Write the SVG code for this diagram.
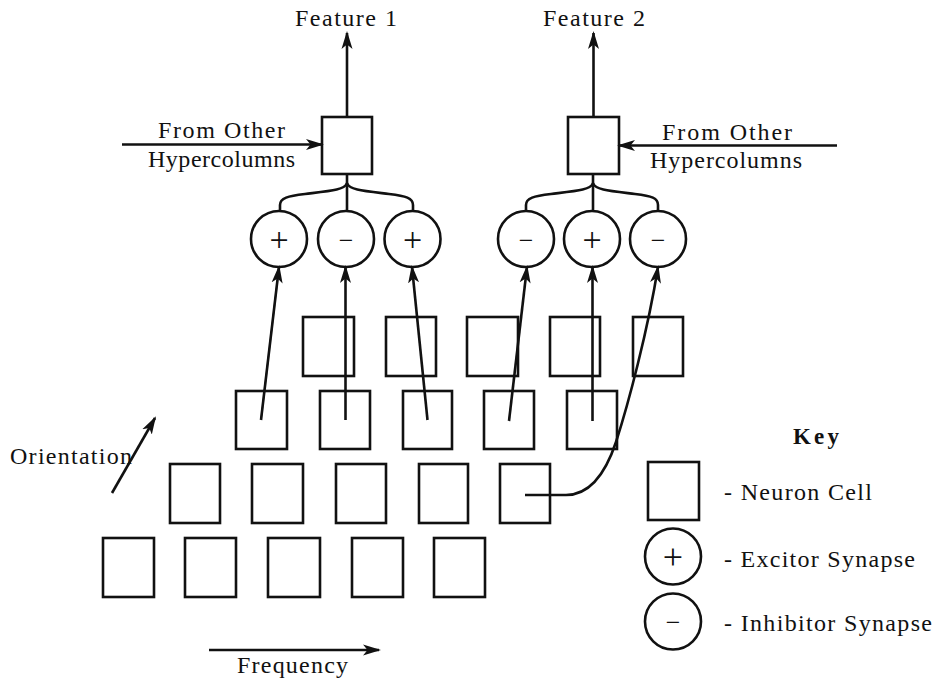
<svg xmlns="http://www.w3.org/2000/svg" width="936" height="680" viewBox="0 0 936 680">
  <style>
    .box { fill: none; stroke: #111; stroke-width: 2.6; }
    .syn { fill: #fff; stroke: #111; stroke-width: 2.6; }
    .wire { fill: none; stroke: #111; stroke-width: 2.6; }
    .arrow { fill: none; stroke: #111; stroke-width: 2.6; marker-end: url(#head); }
    .lbl { font-family: "Liberation Serif", "Times New Roman", serif; font-size: 24px; fill: #111; }
    .key { font-family: "Liberation Serif", "Times New Roman", serif; font-size: 23px; font-weight: bold; fill: #111; }
    .sign { font-family: "Liberation Serif", "Times New Roman", serif; fill: #111; text-anchor: middle; }
  </style>
  <defs>
    <marker id="head" viewBox="0 0 18 12" refX="16" refY="6" markerWidth="18" markerHeight="12" markerUnits="userSpaceOnUse" orient="auto">
      <path d="M0,0.5 L18,6 L0,11.5 L4.5,6 z" fill="#111"/>
    </marker>
  </defs>
  <rect width="936" height="680" fill="#fff"/>

  <!-- output feature cells -->
  <g id="feature1">
    <rect class="box" x="322" y="117" width="50" height="57"/>
    <text class="lbl" x="295" y="26" textLength="102" lengthAdjust="spacing">Feature 1</text>
  </g>
  <g id="feature2">
    <rect class="box" x="568" y="117" width="51" height="57"/>
    <text class="lbl" x="543" y="26" textLength="102" lengthAdjust="spacing">Feature 2</text>
  </g>
  <g id="other-left">
    <text class="lbl" x="158" y="137.5" textLength="127" lengthAdjust="spacing">From Other</text>
    <text class="lbl" x="148" y="166.5" textLength="147" lengthAdjust="spacing">Hypercolumns</text>
  </g>
  <g id="other-right">
    <text class="lbl" x="662" y="140" textLength="130" lengthAdjust="spacing">From Other</text>
    <text class="lbl" x="650" y="168" textLength="152" lengthAdjust="spacing">Hypercolumns</text>
  </g>

  <!-- synapses -->
  <g id="syn1"><circle class="syn" cx="279" cy="239" r="28"/><text class="sign" x="279" y="251" font-size="34">+</text></g>
  <g id="syn2"><circle class="syn" cx="346" cy="239" r="28"/><text class="sign" x="346" y="249" font-size="26">−</text></g>
  <g id="syn3"><circle class="syn" cx="412.5" cy="239" r="28"/><text class="sign" x="412.5" y="251" font-size="34">+</text></g>
  <g id="syn4"><circle class="syn" cx="526" cy="239" r="28"/><text class="sign" x="526" y="249" font-size="26">−</text></g>
  <g id="syn5"><circle class="syn" cx="592" cy="239" r="28"/><text class="sign" x="592" y="251" font-size="34">+</text></g>
  <g id="syn6"><circle class="syn" cx="658" cy="239" r="28"/><text class="sign" x="658" y="249" font-size="26">−</text></g>

  <!-- neuron cell grid: rows by orientation, columns by frequency -->
  <g id="cells-row1">
    <rect class="box" x="303" y="317" width="51" height="59"/>
    <rect class="box" x="386" y="317" width="50" height="59"/>
    <rect class="box" x="467" y="317" width="51" height="59"/>
    <rect class="box" x="550" y="317" width="50" height="59"/>
    <rect class="box" x="633" y="317" width="50" height="59"/>
  </g>
  <g id="cells-row2">
    <rect class="box" x="236" y="391" width="51" height="58"/>
    <rect class="box" x="320" y="391" width="50" height="58"/>
    <rect class="box" x="403" y="391" width="49" height="58"/>
    <rect class="box" x="484" y="391" width="50" height="58"/>
    <rect class="box" x="567" y="391" width="50" height="58"/>
  </g>
  <g id="cells-row3">
    <rect class="box" x="170" y="464" width="50" height="59"/>
    <rect class="box" x="252" y="464" width="51" height="59"/>
    <rect class="box" x="336" y="464" width="50" height="59"/>
    <rect class="box" x="419" y="464" width="49" height="59"/>
    <rect class="box" x="500" y="464" width="50" height="59"/>
  </g>
  <g id="cells-row4">
    <rect class="box" x="103" y="538" width="51" height="59"/>
    <rect class="box" x="185" y="538" width="51" height="59"/>
    <rect class="box" x="268" y="538" width="52" height="59"/>
    <rect class="box" x="352" y="538" width="51" height="59"/>
    <rect class="box" x="434" y="538" width="51" height="59"/>
  </g>

  <!-- axis labels -->
  <g id="orientation">
    <text class="lbl" x="10" y="464" textLength="122" lengthAdjust="spacing">Orientation</text>
  </g>
  <g id="frequency">
    <text class="lbl" x="237" y="672.5" textLength="111" lengthAdjust="spacing">Frequency</text>
  </g>

  <!-- legend -->
  <g id="key">
    <text class="key" x="793" y="444" textLength="46" lengthAdjust="spacing">Key</text>
    <g id="key-cell">
      <rect class="box" x="648" y="462" width="51" height="58"/>
      <text class="lbl" x="724" y="500" textLength="148" lengthAdjust="spacing">- Neuron Cell</text>
    </g>
    <g id="key-excitor">
      <circle class="syn" cx="673" cy="556.5" r="28"/>
      <text class="sign" x="673" y="569" font-size="36">+</text>
      <text class="lbl" x="724" y="566.5" textLength="191" lengthAdjust="spacing">- Excitor Synapse</text>
    </g>
    <g id="key-inhibitor">
      <circle class="syn" cx="673" cy="621.5" r="28"/>
      <text class="sign" x="673" y="631" font-size="26">−</text>
      <text class="lbl" x="724" y="631" textLength="208" lengthAdjust="spacing">- Inhibitor Synapse</text>
    </g>
  </g>

  <!-- connectors -->
  <g id="connectors">
    <!-- feature outputs and lateral inputs -->
    <line class="arrow" x1="347" y1="117" x2="347" y2="33"/>
    <line class="arrow" x1="593.5" y1="117" x2="593.5" y2="33"/>
    <line class="arrow" x1="122" y1="144.5" x2="322" y2="144.5"/>
    <line class="arrow" x1="837" y1="145.5" x2="619" y2="145.5"/>

    <!-- synapse fan-in to feature cells -->
    <path class="wire" d="M347,174 V211"/>
    <path class="wire" d="M347,183 C345,190 330,191 305,194 C288,196 280,198 280,205 V211"/>
    <path class="wire" d="M347,183 C349,190 364,191 389,194 C406,196 413,198 413,205 V211"/>
    <path class="wire" d="M593,174 V211"/>
    <path class="wire" d="M593,183 C591,190 576,191 551,194 C534,196 526,198 526,205 V211"/>
    <path class="wire" d="M593,183 C595,190 610,191 635,194 C652,196 658,198 658,205 V211"/>

    <!-- neuron cells to synapses -->
    <line class="arrow" x1="261" y1="420" x2="279" y2="267"/>
    <line class="arrow" x1="345.5" y1="420" x2="345.5" y2="267"/>
    <line class="arrow" x1="427.5" y1="420" x2="412" y2="267"/>
    <line class="arrow" x1="509" y1="421" x2="527" y2="267"/>
    <line class="arrow" x1="592.5" y1="421" x2="592.5" y2="267"/>
    <path class="arrow" d="M525,495 H566 C590,495 606,472 616,442 C628,405 648,330 658,267"/>

    <!-- axis arrows -->
    <line class="arrow" x1="112" y1="493" x2="155" y2="418"/>
    <line class="arrow" x1="209" y1="650" x2="379" y2="650"/>
  </g>
</svg>
